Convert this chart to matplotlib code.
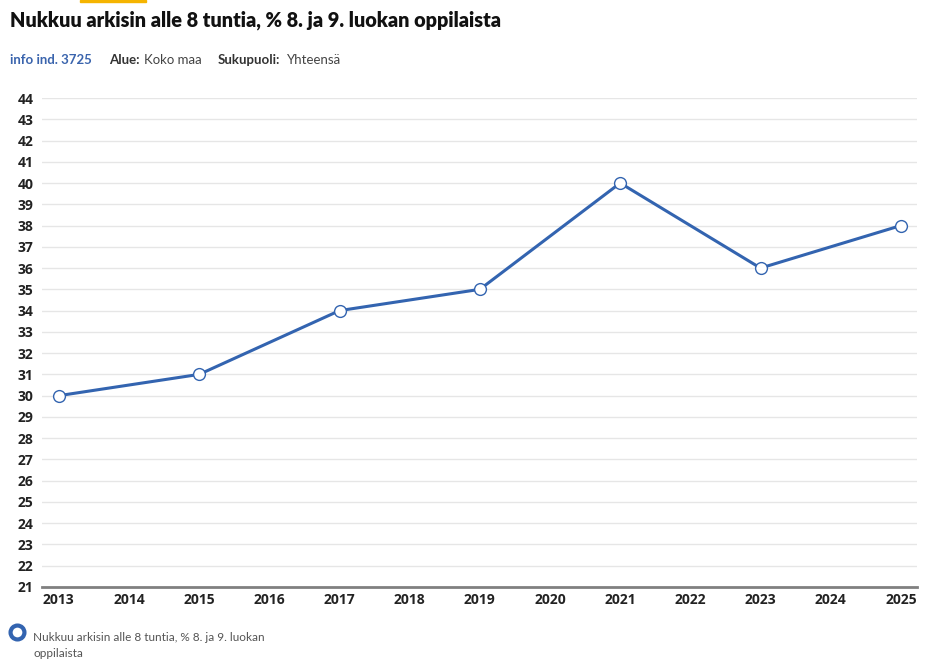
import matplotlib.pyplot as plt
from matplotlib.lines import Line2D

years = [2013, 2015, 2017, 2019, 2021, 2023, 2025]
values = [30, 31, 34, 35, 40, 36, 38]
xticks = list(range(2013, 2026))
yticks = list(range(21, 45))

title = "Nukkuu arkisin alle 8 tuntia, % 8. ja 9. luokan oppilaista"
series_name = "Nukkuu arkisin alle 8 tuntia, % 8. ja 9. luokan\noppilaista"

blue = '#3364b0'
W, H = 944, 669

fig = plt.figure(figsize=(W/100, H/100), dpi=100)
ax = fig.add_axes([42/W, 1-587/H, (917-42)/W, (587-98)/H])

ax.plot(years, values, color=blue, lw=2.2, marker='o', ms=8.5,
        mfc='white', mec=blue, mew=1.0, zorder=3, clip_on=False)

ax.set_xlim(2012.76, 2025.23)
ax.set_ylim(21, 44)
ax.set_xticks(xticks)
ax.set_yticks(yticks)
ax.grid(axis='y', color='#e6e6e6', lw=1)
ax.set_axisbelow(True)
for s in ['top', 'right', 'left']:
    ax.spines[s].set_visible(False)
ax.spines['bottom'].set_color('#808080')
ax.spines['bottom'].set_linewidth(2)
ax.tick_params(axis='both', length=0, labelsize=10, colors='#222222')
ax.tick_params(axis='x', pad=4)
ax.tick_params(axis='y', pad=6)
for lab in ax.get_xticklabels() + ax.get_yticklabels():
    lab.set_fontweight('bold')
    lab.set_family('Open Sans')

fig.text(10/W, 1-20/H, title, fontsize=14.3, fontweight='heavy',
         family='Lato', va='center', ha='left', color='#111111')
fig.patches.append(plt.Rectangle((80/W, 1-2/H), 66/W, 2/H, color='#f5b400',
                                 transform=fig.transFigure, figure=fig))

y_meta = 1-60/H
fig.text(10/W, y_meta, 'info ind. 3725', fontsize=9.5, fontweight='bold',
         color='#3a64ad', family='Lato', va='center')
fig.text(109/W, y_meta, 'Alue:', fontsize=9.5, fontweight='bold',
         color='#333333', family='Lato', va='center')
fig.text(144/W, y_meta, 'Koko maa', fontsize=9.5, color='#444444',
         family='Lato', va='center')
fig.text(218/W, y_meta, 'Sukupuoli:', fontsize=9.5, fontweight='bold',
         color='#333333', family='Lato', va='center')
fig.text(287/W, y_meta, 'Yhteensä', fontsize=9.5, color='#444444',
         family='Lato', va='center')

fig.add_artist(Line2D([17/W], [1-632/H], marker='o', ms=10, mfc='white',
                      mec=blue, mew=3, transform=fig.transFigure))
fig.text(33/W, 1-632/H, series_name, fontsize=8.5, color='#555555',
         family='Lato', va='top', linespacing=1.6)

fig.savefig('out.png', dpi=100)
